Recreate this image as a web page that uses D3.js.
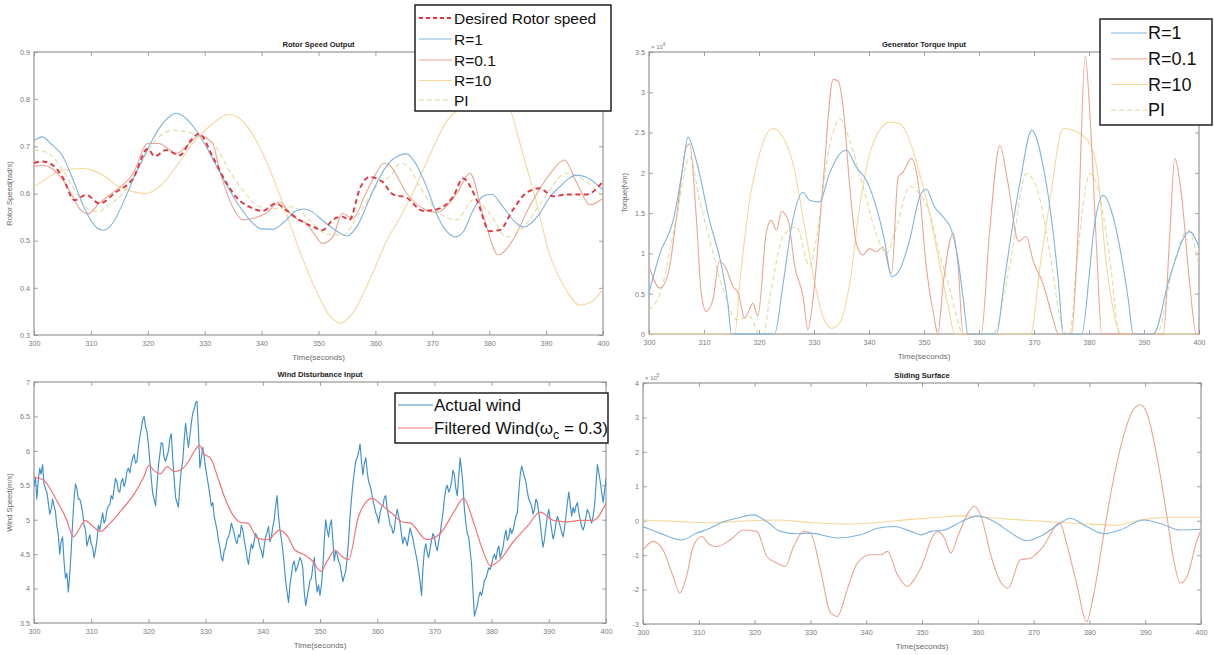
<!DOCTYPE html>
<html>
<head>
<meta charset="utf-8">
<script src="https://cdn.jsdelivr.net/npm/d3@7"></script>
<style>
  html, body { margin: 0; padding: 0; background: #fff; }
  svg { display: block; font-family: "Liberation Sans", Arial, sans-serif; }
</style>
</head>
<body>
<script>
// ---------- Rotor speed output (rad/s) : [time, value] ----------
const rotorDesired = [[300,0.665],[301.5,0.668],[303.3,0.66],[305,0.635],[307.1,0.586],[309.2,0.597],[311.5,0.579],[314.4,0.603],[317.4,0.632],[320,0.695],[321.2,0.679],[323.2,0.692],[325.6,0.681],[327.6,0.713],[329,0.727],[331.4,0.678],[333.7,0.625],[335.5,0.593],[337.8,0.572],[340.2,0.563],[342.5,0.579],[344.3,0.565],[346.6,0.544],[349,0.53],[350.7,0.522],[352.5,0.544],[354.2,0.551],[355.4,0.544],[357.4,0.614],[358.9,0.635],[361.2,0.625],[363.1,0.598],[365.5,0.591],[368.4,0.563],[370.7,0.566],[373.7,0.594],[375.4,0.632],[377.8,0.587],[380.1,0.52],[381.9,0.523],[384.2,0.566],[386.5,0.601],[388.9,0.611],[391.2,0.594],[393.6,0.598],[397.1,0.598],[400,0.626]];
const rotorR1 = [[300,0.712],[301.5,0.72],[303,0.705],[305,0.68],[307,0.625],[309,0.565],[311,0.528],[312.3,0.522],[314,0.54],[316,0.59],[318,0.645],[320,0.695],[322,0.738],[324,0.765],[325,0.77],[326,0.766],[328,0.742],[330,0.705],[332,0.66],[334,0.615],[336,0.575],[338,0.543],[340,0.525],[342,0.524],[344,0.54],[346,0.563],[347.5,0.567],[349,0.56],[351,0.54],[353,0.522],[355,0.51],[357,0.535],[359,0.59],[361,0.64],[363,0.672],[365.5,0.684],[367,0.665],[369,0.614],[371,0.55],[372.5,0.52],[374,0.508],[375.5,0.52],[377,0.56],[379,0.595],[380.5,0.598],[382.4,0.572],[384.5,0.54],[386,0.529],[388.9,0.558],[390.5,0.59],[392.4,0.614],[394,0.632],[395.3,0.639],[397,0.635],[398.3,0.625],[400,0.608]];
const rotorR01 = [[300,0.657],[301.5,0.66],[303.3,0.652],[305,0.63],[306.5,0.6],[308,0.568],[309.5,0.557],[311.5,0.58],[314.4,0.607],[317.4,0.642],[320,0.706],[322,0.706],[323.5,0.695],[325,0.685],[327.3,0.706],[329,0.723],[331.4,0.706],[332.6,0.65],[334.9,0.572],[336.7,0.544],[338.4,0.547],[340.8,0.558],[343.1,0.582],[345.5,0.551],[347.8,0.537],[349.5,0.51],[350.7,0.494],[352.5,0.508],[354.2,0.558],[356,0.547],[358.3,0.6],[360,0.64],[361.5,0.664],[362.5,0.66],[365.5,0.6],[368.4,0.568],[370.7,0.56],[374.3,0.6],[376.6,0.643],[379,0.551],[381.6,0.47],[384.2,0.502],[387.1,0.573],[390.6,0.64],[393.2,0.671],[395.3,0.625],[397.7,0.576],[400,0.59]];
const rotorR10 = [[300,0.614],[302,0.63],[304,0.645],[305.7,0.65],[308.6,0.653],[310.5,0.648],[312.1,0.639],[315,0.614],[317.4,0.604],[319.7,0.6],[322,0.614],[325,0.657],[327.9,0.706],[331.4,0.748],[334.3,0.768],[337.3,0.745],[340.2,0.685],[343.1,0.6],[346,0.501],[349,0.41],[351.9,0.342],[353.9,0.325],[356,0.346],[359.5,0.431],[362,0.5],[364.1,0.544],[366.7,0.604],[369.5,0.68],[372.5,0.753],[375.7,0.79],[378,0.82],[380,0.83],[382,0.815],[384,0.767],[386,0.68],[387.9,0.6],[390.6,0.472],[393.6,0.394],[395.9,0.363],[398.3,0.373],[400,0.398]];
const rotorPI = [[300,0.692],[301.5,0.69],[303.3,0.678],[305,0.65],[306.8,0.614],[309.8,0.565],[311.5,0.562],[312.7,0.572],[315.6,0.6],[318.5,0.657],[321.4,0.713],[324.4,0.734],[326.7,0.731],[329,0.724],[332,0.699],[334.3,0.649],[336.7,0.607],[339.6,0.572],[342.5,0.568],[345.5,0.572],[348.4,0.544],[351.3,0.515],[354.2,0.512],[357.2,0.558],[360.1,0.614],[363,0.642],[364.3,0.664],[365.5,0.66],[367.8,0.614],[371.3,0.558],[374.3,0.544],[377.2,0.587],[380.1,0.558],[383,0.508],[386,0.529],[389.5,0.587],[393.6,0.643],[397.1,0.625],[400,0.593]];

// ---------- Generator torque input (x10^4 Nm) ----------
const torqueR1 = [[300,0.51],[302,1.0],[304.4,1.41],[306,2.0],[307.1,2.44],[308.6,2.15],[311,1.41],[313.2,0.84],[314.3,0.4],[315,0],[322.8,0],[324.4,0.63],[325.9,1.33],[328,1.76],[329.2,1.66],[331,1.64],[332.8,1.99],[334.7,2.24],[335.9,2.28],[337.7,2.07],[339.5,1.91],[341.3,1.58],[342.8,1.17],[344.1,0.71],[345.6,0.8],[347.4,1.17],[349.2,1.7],[350.4,1.8],[351.9,1.58],[353.5,1.45],[355,1.29],[356.2,0.92],[357.2,0.4],[358,0],[363.2,0],[364.5,0.6],[365.6,1.12],[367.5,1.9],[369.6,2.53],[371.7,2.07],[373.5,1.25],[374.5,0.6],[375.3,0],[378.7,0],[380,0.7],[380.8,1.25],[382.6,1.72],[384.4,1.45],[386.2,0.84],[387.2,0.4],[388,0],[391.7,0],[394.7,0.71],[398.3,1.27],[400,1.08]];
const torqueR01 = [[300,0.84],[302,0.57],[303.5,0.75],[305,1.45],[306.8,2.32],[307.4,2.36],[308.6,1.45],[309.5,0.51],[310.4,0.28],[311.6,0.42],[312.8,0.9],[313.8,0.84],[315.3,0.59],[316.2,0.51],[317.4,0.2],[318.9,0.38],[319.8,0.22],[321.3,1.25],[322.2,1.41],[323.2,1.29],[324.1,1.52],[325.3,1.41],[326.5,0.84],[328,0.47],[328.9,0.05],[329.8,0.42],[331.6,1.83],[333.5,3.16],[334.4,3.14],[335.3,2.81],[336.5,1.83],[337.7,1.12],[338.9,0.98],[340.1,1.06],[341.3,1.02],[342.5,1.08],[344.1,0.75],[345.3,1.95],[346.2,2.01],[347.7,2.18],[349.2,1.74],[350.4,0.84],[351.9,0.18],[352.5,0],[353.5,0.63],[355.3,1.25],[356.2,0.84],[357.1,0],[360.4,0],[361.9,1.25],[363.8,2.34],[365.2,1.9],[367.2,1.15],[368.6,1.21],[369.8,0.92],[371.6,0.63],[373.5,0.18],[374.4,0],[376.8,0],[378,1.25],[379.3,3.45],[380.2,2.69],[381.4,1.04],[382.3,0],[393.5,0],[394.7,1.25],[395.6,2.18],[396.8,1.74],[398.3,0.63],[399.5,0],[400,0]];
const torqueR10 = [[300,0],[315.6,0],[316.5,0.63],[318.3,1.66],[320.1,2.24],[322.5,2.55],[324.4,2.44],[326.2,2.11],[328,1.45],[329.8,0.75],[331.6,0.22],[333.2,0.07],[334.7,0.14],[336.5,0.63],[338.3,1.58],[340.7,2.36],[343.8,2.63],[345.6,2.61],[347.4,2.4],[349.2,1.99],[351,1.5],[352.8,0.88],[354.4,0.34],[355.6,0],[369.4,0],[371.1,0.84],[372.9,1.66],[375.3,2.55],[378,2.5],[379.8,2.4],[381.4,2.07],[383.2,0.84],[385.9,0],[400,0]];
const torquePI = [[300,0.3],[302,0.5],[305,1.45],[307.4,2.2],[309.2,1.66],[311,1.17],[313.5,0.55],[315.9,0.18],[318.3,0.22],[320.1,0],[320.8,0],[321.9,0.42],[324.4,1.21],[326.8,1.33],[329.2,0.84],[330.4,1.17],[332.8,2.32],[334.7,2.67],[336.5,2.4],[338.9,1.83],[341.3,1.25],[343.2,1.0],[345,1.33],[347.4,1.83],[349.2,1.74],[351,1.5],[352.8,1.0],[354.7,0.55],[355.9,0.22],[357.1,0],[362.5,0],[365.6,0.85],[368.6,1.99],[370.4,1.83],[372.9,1.0],[374.7,0.22],[375.9,0],[376.5,0],[377.7,0.84],[380.2,1.99],[382,1.7],[383.8,0.92],[385.6,0],[392.3,0],[395.3,0.84],[398,1.29],[400,0.84]];

// ---------- Wind disturbance input (m/s) ----------
// measured wind, sampled every 0.25 s from t = 300 s
const windStart = 300, windStep = 0.25;
const windActual = [
5.50,5.62,5.30,5.58,5.75,5.66,5.80,5.52, 5.45,5.40,5.25,5.08,5.15,5.30,5.20,5.12,
4.90,4.78,4.50,4.68,4.75,4.40,4.15,4.22, 3.95,4.20,4.55,4.95,5.30,5.52,5.45,5.30,
5.30,5.22,5.10,4.92,4.85,4.62,4.70,4.78, 4.65,4.60,4.45,4.55,4.70,4.92,4.85,4.98,
5.10,4.95,5.00,5.14,5.20,5.22,5.35,5.30, 5.45,5.60,5.55,5.42,5.40,5.55,5.60,5.48,
5.55,5.70,5.75,5.68,5.80,5.90,5.95,5.82, 5.85,6.05,6.20,6.32,6.45,6.50,6.35,6.28,
6.10,5.85,5.60,5.38,5.30,5.20,5.50,5.78, 5.95,6.12,6.10,5.90,5.85,5.92,6.00,6.18,
6.25,5.90,5.60,5.32,5.25,5.18,5.50,5.72, 5.85,6.15,6.40,6.22,6.05,6.22,6.40,6.55,
6.60,6.70,6.72,6.30,5.75,5.90,6.05,5.92, 5.75,5.62,5.50,5.35,5.20,5.25,5.05,4.95,
4.85,4.70,4.60,4.45,4.40,4.55,4.60,4.72, 4.75,4.82,4.95,4.88,4.80,4.70,4.65,4.78,
4.75,4.92,4.85,4.70,4.60,4.45,4.35,4.52, 4.65,4.58,4.70,4.80,4.75,4.70,4.60,4.55,
4.45,4.62,4.75,4.82,4.90,4.68,4.75,4.90, 5.00,5.20,5.35,5.05,4.85,4.72,4.55,4.35,
4.10,3.95,3.80,4.05,4.20,4.35,4.40,4.25, 4.30,4.38,4.45,4.40,4.30,3.95,3.75,3.88,
4.00,4.12,4.15,4.32,4.45,4.15,3.95,4.05, 3.90,4.05,4.30,4.70,5.00,4.85,4.75,4.92,
5.00,4.70,4.40,4.55,4.50,4.40,4.35,4.22, 4.10,4.18,4.25,4.45,4.70,5.05,5.30,5.52,
5.70,5.85,5.90,5.98,6.10,5.85,5.65,5.82, 5.90,5.70,5.55,5.50,5.40,5.28,5.20,5.10,
5.05,4.95,5.10,5.18,5.20,5.32,5.35,5.15, 5.05,4.92,4.90,4.80,4.85,5.05,5.15,5.05,
4.95,4.78,4.65,4.75,4.70,4.62,4.75,4.88, 4.80,4.72,4.60,4.50,4.40,4.25,4.10,3.90,
4.30,4.55,4.65,4.52,4.45,4.58,4.70,4.80, 4.75,4.62,4.55,4.68,4.80,4.95,5.10,5.30,
5.45,5.50,5.40,5.45,5.55,5.72,5.65,5.45, 5.35,5.62,5.90,5.72,5.50,5.15,4.95,4.80,
4.75,4.55,4.35,3.95,3.60,3.68,3.75,3.88, 3.95,3.90,4.00,4.12,4.15,4.22,4.30,4.28,
4.35,4.45,4.50,4.42,4.55,4.62,4.45,4.52, 4.60,4.75,4.85,4.70,4.75,4.88,4.80,4.85,
4.95,5.05,5.10,5.40,5.65,5.78,5.70,5.62, 5.55,5.40,5.30,5.25,5.20,5.08,5.15,5.30,
5.25,5.10,4.95,4.75,4.60,4.72,4.90,5.05, 5.15,5.00,4.85,4.72,4.80,4.95,5.05,4.98,
4.90,4.82,4.75,4.88,5.05,5.25,5.40,5.22, 5.05,5.18,5.10,5.20,5.25,5.10,5.00,4.90,
4.85,4.92,5.05,5.15,5.10,5.02,4.95,5.05, 5.20,5.50,5.80,5.68,5.55,5.40,5.25,5.42,
5.60];
const windFiltered = [[300,5.62],[301.6,5.58],[303.9,5.29],[305.7,5.0],[306.9,4.75],[308,4.88],[308.9,4.99],[310.1,4.92],[311.6,4.83],[313.3,4.95],[315.1,5.12],[317.4,5.36],[319.2,5.62],[320.1,5.79],[320.9,5.72],[322.1,5.67],[323.3,5.77],[324.5,5.7],[325.6,5.72],[326.8,5.82],[328,5.99],[328.9,6.08],[329.7,5.96],[330.9,5.89],[332.1,5.62],[333.3,5.33],[335,5.04],[336.2,4.96],[337.4,4.95],[339.1,4.73],[340.9,4.71],[342.9,4.85],[344.4,4.75],[345.6,4.56],[347.3,4.49],[348.8,4.39],[350.1,4.25],[351.4,4.42],[352.6,4.56],[353.8,4.47],[355,4.42],[356.7,5.04],[357.9,5.24],[359.1,5.31],[360.8,5.21],[362.6,5.09],[364.3,4.97],[365.8,4.95],[368.7,4.71],[371,4.8],[373.4,5.11],[375.1,5.31],[376.9,4.95],[378.6,4.52],[379.8,4.33],[381.5,4.42],[383.8,4.68],[386.2,4.9],[388.5,5.11],[390.8,4.99],[393.2,4.97],[395.5,4.99],[397.8,4.99],[400,5.24]];

// ---------- Sliding surface (x10^5) ----------
const slideR10 = [[300,0.02],[306,-0.02],[312,-0.06],[318,-0.01],[324,0.02],[330,-0.05],[336,-0.1],[342,-0.05],[348,0.04],[353,0.1],[357,0.14],[361,0.1],[366,0.04],[370,0.0],[375.9,-0.06],[380,-0.1],[384.9,-0.13],[388,-0.02],[390.9,0.06],[395,0.1],[400,0.1]];
const slideR1 = [[300,-0.17],[303,-0.36],[306.9,-0.56],[309.6,-0.36],[312,-0.22],[314.4,-0.03],[316.8,0.07],[319.8,0.17],[322.2,-0.03],[324.6,-0.31],[327.6,-0.38],[330,-0.36],[334.8,-0.5],[339,-0.41],[342,-0.22],[345,-0.17],[348,-0.31],[349.8,-0.41],[351.6,-0.31],[354,-0.27],[357,-0.03],[360,0.14],[363,-0.03],[366,-0.36],[368.7,-0.58],[371.7,-0.41],[374.7,-0.08],[376.5,0.07],[379.5,-0.17],[382.5,-0.38],[385.5,-0.27],[389.7,0.02],[392.7,-0.08],[396.3,-0.27],[400,-0.25]];
const slideR01 = [[300,-0.85],[301.8,-0.6],[303.6,-0.85],[305.4,-1.62],[306.6,-2.1],[307.8,-1.62],[309,-0.75],[310.5,-0.46],[312,-0.7],[313.2,-0.75],[315.6,-0.56],[318,-0.27],[320.4,-0.31],[322.2,-1.04],[324,-1.23],[325.5,-1.33],[327,-0.75],[328.8,-0.31],[330,-0.36],[331.8,-1.42],[333.6,-2.68],[334.8,-2.78],[336.6,-2.0],[338.4,-1.23],[340.8,-0.99],[342.6,-0.99],[343.8,-0.89],[345.6,-1.57],[347.4,-1.91],[348.6,-1.71],[350.4,-1.13],[351.6,-0.56],[352.8,-0.31],[354,-0.5],[355.2,-0.94],[356.4,-0.46],[358.2,0.21],[359.4,0.42],[360.6,0.12],[362.4,-1.04],[364.2,-1.81],[365.4,-1.96],[367.6,-1.14],[369.4,-1.09],[371.7,-0.75],[374.7,-0.06],[375.9,-0.66],[377.7,-1.81],[379.5,-2.93],[380.7,-2.2],[382.5,-0.46],[384.3,1.19],[386.1,2.45],[387.9,3.23],[389.1,3.37],[390.3,3.13],[392.1,1.87],[393.9,0.12],[395.1,-1.14],[396.3,-1.81],[397.5,-1.62],[399.3,-0.56],[400,-0.27]];

// ---------- axis ticks ----------
const timeTicks = [300,310,320,330,340,350,360,370,380,390,400];
const rotorTicks = [0.3,0.4,0.5,0.6,0.7,0.8,0.9];
const torqueTicks = [0,0.5,1,1.5,2,2.5,3,3.5];
const windTicks = [3.5,4,4.5,5,5.5,6,6.5,7];
const slideTicks = [-3,-2,-1,0,1,2,3,4];

// ---------- styles ----------
const C = {
  desired: "#e3343f",
  r1: "#80b4de",
  r01: "#eba592",
  r10: "#f6d79a",
  pi: "#e0dc9e",
  wind: "#3f8fcd",
  filt: "#f27474",
  axis: "#8c8c8c",
  tick: "#7a7a7a"
};

const W = 1214, H = 655;
const svg = d3.select("body").append("svg").attr("width", W).attr("height", H);
svg.append("rect").attr("width", W).attr("height", H).attr("fill", "#fff");

let clipId = 0;
function panel(o) {
  const x = d3.scaleLinear().domain([300, 400]).range([o.l, o.r]);
  const y = d3.scaleLinear().domain(o.yDomain).range([o.b, o.t]);
  const g = svg.append("g");
  const id = "clip" + (clipId++);
  svg.append("clipPath").attr("id", id).append("rect")
    .attr("x", o.l).attr("y", o.t - 1).attr("width", o.r - o.l).attr("height", o.b - o.t + 2);

  const styleAxis = sel => {
    sel.select(".domain").remove();
    sel.selectAll("line").attr("stroke", C.axis).attr("stroke-width", 0.8);
    sel.selectAll("text").attr("fill", C.tick).attr("font-size", 7.2);
  };
  g.append("g").attr("transform", `translate(0,${o.b})`)
    .call(d3.axisBottom(x).tickValues(timeTicks).tickSizeInner(-4).tickSizeOuter(0).tickPadding(6).tickFormat(d3.format("d")))
    .call(styleAxis);
  g.append("g").attr("transform", `translate(0,${o.t})`)
    .call(d3.axisTop(x).tickValues(timeTicks).tickSizeInner(-4).tickSizeOuter(0).tickFormat(""))
    .call(styleAxis);
  g.append("g").attr("transform", `translate(${o.l},0)`)
    .call(d3.axisLeft(y).tickValues(o.yTicks).tickSizeInner(-4).tickSizeOuter(0).tickPadding(4).tickFormat(o.yFormat))
    .call(styleAxis);
  g.append("g").attr("transform", `translate(${o.r},0)`)
    .call(d3.axisRight(y).tickValues(o.yTicks).tickSizeInner(-4).tickSizeOuter(0).tickFormat(""))
    .call(styleAxis);

  // axes box
  svg.append("rect").attr("x", o.l).attr("y", o.t)
    .attr("width", o.r - o.l).attr("height", o.b - o.t)
    .attr("fill", "none").attr("stroke", C.axis).attr("stroke-width", 1.1);

  const lines = svg.append("g").attr("clip-path", `url(#${id})`);
  o.series.forEach(s => {
    const gen = d3.line().x(d => x(d[0])).y(d => y(d[1]))
      .curve(s.curve || d3.curveMonotoneX);
    lines.append("path").datum(s.data)
      .attr("fill", "none")
      .attr("stroke", s.color)
      .attr("stroke-width", s.width || 1.1)
      .attr("stroke-dasharray", s.dash || null)
      .attr("stroke-linejoin", "round")
      .attr("d", gen);
  });

  // title
  svg.append("text").attr("x", (o.l + o.r) / 2).attr("y", o.t - 5)
    .attr("text-anchor", "middle").attr("font-size", 7.6).attr("font-weight", "bold")
    .attr("fill", "#222").text(o.title);
  // x label
  svg.append("text").attr("x", (o.l + o.r) / 2).attr("y", o.b + 25)
    .attr("text-anchor", "middle").attr("font-size", 8).attr("fill", "#6a6a6a")
    .text("Time(seconds)");
  // y label
  if (o.ylabel) {
    svg.append("text")
      .attr("transform", `translate(${o.ylx},${(o.t + o.b) / 2}) rotate(-90)`)
      .attr("text-anchor", "middle").attr("font-size", 7.6).attr("fill", "#6a6a6a")
      .text(o.ylabel);
  }
  // exponent marker
  if (o.exponent) {
    const t = svg.append("text").attr("x", o.l + 2).attr("y", o.t - 3)
      .attr("font-size", 6).attr("fill", C.tick);
    t.append("tspan").text("\u00d7 10");
    t.append("tspan").attr("dy", -3).attr("font-size", 4.5).text(o.exponent);
  }
  return { x, y };
}

function legend(o) {
  const g = svg.append("g");
  g.append("rect").attr("x", o.x).attr("y", o.y).attr("width", o.w).attr("height", o.h)
    .attr("fill", "#fff").attr("stroke", "#111").attr("stroke-width", 1.4);
  o.items.forEach((it, i) => {
    const cy = o.rows[i];
    g.append("line").attr("x1", o.lx1).attr("x2", o.lx2).attr("y1", cy).attr("y2", cy)
      .attr("stroke", it.color).attr("stroke-width", it.width || 1.1)
      .attr("stroke-dasharray", it.dash || null);
    const t = g.append("text").attr("x", o.tx).attr("y", cy)
      .attr("dy", "0.36em").attr("font-size", o.fs).attr("fill", "#111");
    if (it.parts) {
      it.parts.forEach(p => {
        const sp = t.append("tspan").text(p.text);
        if (p.sub) sp.attr("dy", o.fs * 0.3).attr("font-size", o.fs * 0.72);
        if (p.back) sp.attr("dy", -o.fs * 0.3);
      });
    } else {
      t.text(it.label);
    }
  });
}

// Rotor speed
panel({
  l: 34, r: 603, t: 52, b: 335,
  yDomain: [0.3, 0.9], yTicks: rotorTicks, yFormat: d3.format(".1f"),
  title: "Rotor Speed Output", ylabel: "Rotor Speed(rad/s)", ylx: 12,
  series: [
    { data: rotorR10, color: C.r10 },
    { data: rotorPI, color: C.pi, dash: "5,3" },
    { data: rotorR01, color: C.r01 },
    { data: rotorR1, color: C.r1 },
    { data: rotorDesired, color: C.desired, width: 1.9, dash: "5,3.5" }
  ]
});

// Generator torque
panel({
  l: 649, r: 1199, t: 52, b: 334,
  yDomain: [0, 3.5], yTicks: torqueTicks, yFormat: d => String(d),
  title: "Generator Torque Input", ylabel: "Torque(Nm)", ylx: 627, exponent: "4",
  series: [
    { data: torqueR10, color: C.r10 },
    { data: torquePI, color: C.pi, dash: "5,3" },
    { data: torqueR01, color: C.r01 },
    { data: torqueR1, color: C.r1 }
  ]
});

// Wind disturbance
const windPoints = windActual.map((v, i) => [windStart + i * windStep, v]);
panel({
  l: 34, r: 606, t: 382, b: 623,
  yDomain: [3.5, 7], yTicks: windTicks, yFormat: d => String(d),
  title: "Wind Disturbance Input", ylabel: "Wind Speed(m/s)", ylx: 12,
  series: [
    { data: windPoints, color: C.wind, width: 1.15, curve: d3.curveLinear },
    { data: windFiltered, color: C.filt, width: 1.2 }
  ]
});

// Sliding surface
panel({
  l: 643, r: 1201, t: 383, b: 624,
  yDomain: [-3, 4], yTicks: slideTicks, yFormat: d => String(d),
  title: "Sliding Surface", exponent: "5",
  series: [
    { data: slideR10, color: C.r10 },
    { data: slideR01, color: C.r01 },
    { data: slideR1, color: C.r1 }
  ]
});

// Legends
legend({
  x: 415, y: 5, w: 196, h: 106, lx1: 419, lx2: 452, tx: 454, fs: 15.5,
  rows: [18, 39, 60, 80.5, 100],
  items: [
    { label: "Desired Rotor speed", color: C.desired, width: 1.8, dash: "4,3" },
    { label: "R=1", color: C.r1 },
    { label: "R=0.1", color: C.r01 },
    { label: "R=10", color: C.r10 },
    { label: "PI", color: C.pi, dash: "5,3" }
  ]
});
legend({
  x: 1100, y: 19, w: 112, h: 106, lx1: 1111, lx2: 1147, tx: 1148, fs: 18,
  rows: [33, 59, 84.5, 110],
  items: [
    { label: "R=1", color: C.r1 },
    { label: "R=0.1", color: C.r01 },
    { label: "R=10", color: C.r10 },
    { label: "PI", color: C.pi, dash: "5,3" }
  ]
});
legend({
  x: 395, y: 393, w: 213, h: 50, lx1: 398, lx2: 433, tx: 434, fs: 17,
  rows: [405, 428],
  items: [
    { label: "Actual wind", color: C.wind },
    { color: C.filt, parts: [
      { text: "Filtered Wind(\u03c9" }, { text: "c", sub: true }, { text: " = 0.3)", back: true }
    ] }
  ]
});
</script>
</body>
</html>
